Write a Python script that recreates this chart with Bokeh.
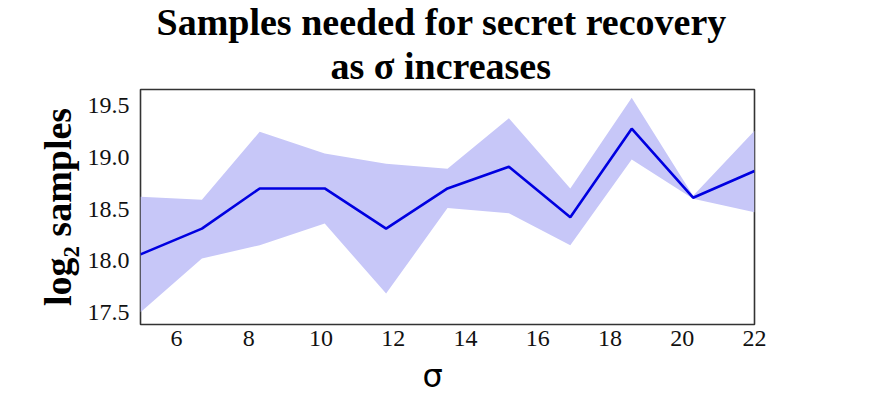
from bokeh.plotting import figure
from bokeh.models import FixedTicker, PrintfTickFormatter, Range1d, Title
from bokeh.embed import file_html
from bokeh.resources import INLINE

# data
sigma = [5, 6.7, 8.3, 10.1, 11.8, 13.5, 15.2, 16.9, 18.6, 20.3, 22]
log2_samples = [18.06, 18.31, 18.70, 18.70, 18.31, 18.70, 18.91, 18.42, 19.28, 18.61, 18.87]
upper = [18.62, 18.59, 19.25, 19.04, 18.94, 18.89, 19.38, 18.70, 19.58, 18.63, 19.26]
lower = [17.50, 18.02, 18.15, 18.36, 17.68, 18.51, 18.46, 18.15, 18.98, 18.60, 18.47]
x_ticks = [6, 8, 10, 12, 14, 16, 18, 20, 22]
y_ticks = [17.5, 18.0, 18.5, 19.0, 19.5]
title_lines = ["Samples needed for secret recovery", "as σ increases"]
x_label = "σ"

W, H = 870, 401
p = figure(width=W, height=H, output_backend="svg", toolbar_location=None,
           title=None,
           x_range=Range1d(5, 22), y_range=Range1d(17.38, 19.66),
           min_border_left=140, min_border_right=W - 754,
           min_border_top=89, min_border_bottom=H - 324)

p.varea(x=sigma, y1=lower, y2=upper, fill_color="#c7c7f8", fill_alpha=1.0)
p.line(x=sigma, y=log2_samples, line_color="#0000e0", line_width=2.6)

# subtitle line (closest to the frame) first, then the main line above it
for txt, so, off in ((title_lines[1], 5, 190), (title_lines[0], -5, 16)):
    p.add_layout(Title(text=txt, align="left", offset=off,
                       text_font="Liberation Serif",
                       text_font_style="bold", text_font_size="38px",
                       text_color="black", standoff=so), "above")

# x label drawn as a title below the axis so it can sit slightly left of centre
p.add_layout(Title(text=x_label, align="left", offset=282,
                   text_font="DejaVu Sans", text_font_style="normal",
                   text_font_size="32px", text_color="black", standoff=13),
             "below")

p.xgrid.visible = False
p.ygrid.visible = False
p.outline_line_color = "#333333"
p.outline_line_width = 1.6
p.outline_line_alpha = 1.0

for ax in (p.xaxis[0], p.yaxis[0]):
    ax.axis_line_color = None
    ax.major_tick_line_color = None
    ax.minor_tick_line_color = None
    ax.major_label_text_font = "Liberation Serif"
    ax.major_label_text_font_size = "24px"
    ax.major_label_text_color = "#111111"

p.xaxis[0].ticker = FixedTicker(ticks=x_ticks)
p.xaxis[0].formatter = PrintfTickFormatter(format="%d")
p.xaxis[0].major_label_standoff = 0

p.yaxis[0].ticker = FixedTicker(ticks=y_ticks)
p.yaxis[0].formatter = PrintfTickFormatter(format="%.1f")
p.yaxis[0].major_label_standoff = 5
p.yaxis[0].axis_label = "log₂ samples"
p.yaxis[0].axis_label_text_font = "Liberation Serif"
p.yaxis[0].axis_label_text_font_style = "bold"
p.yaxis[0].axis_label_text_font_size = "38px"
p.yaxis[0].axis_label_text_color = "black"
p.yaxis[0].axis_label_standoff = 6

open("out.html", "w").write(file_html(p, INLINE))
